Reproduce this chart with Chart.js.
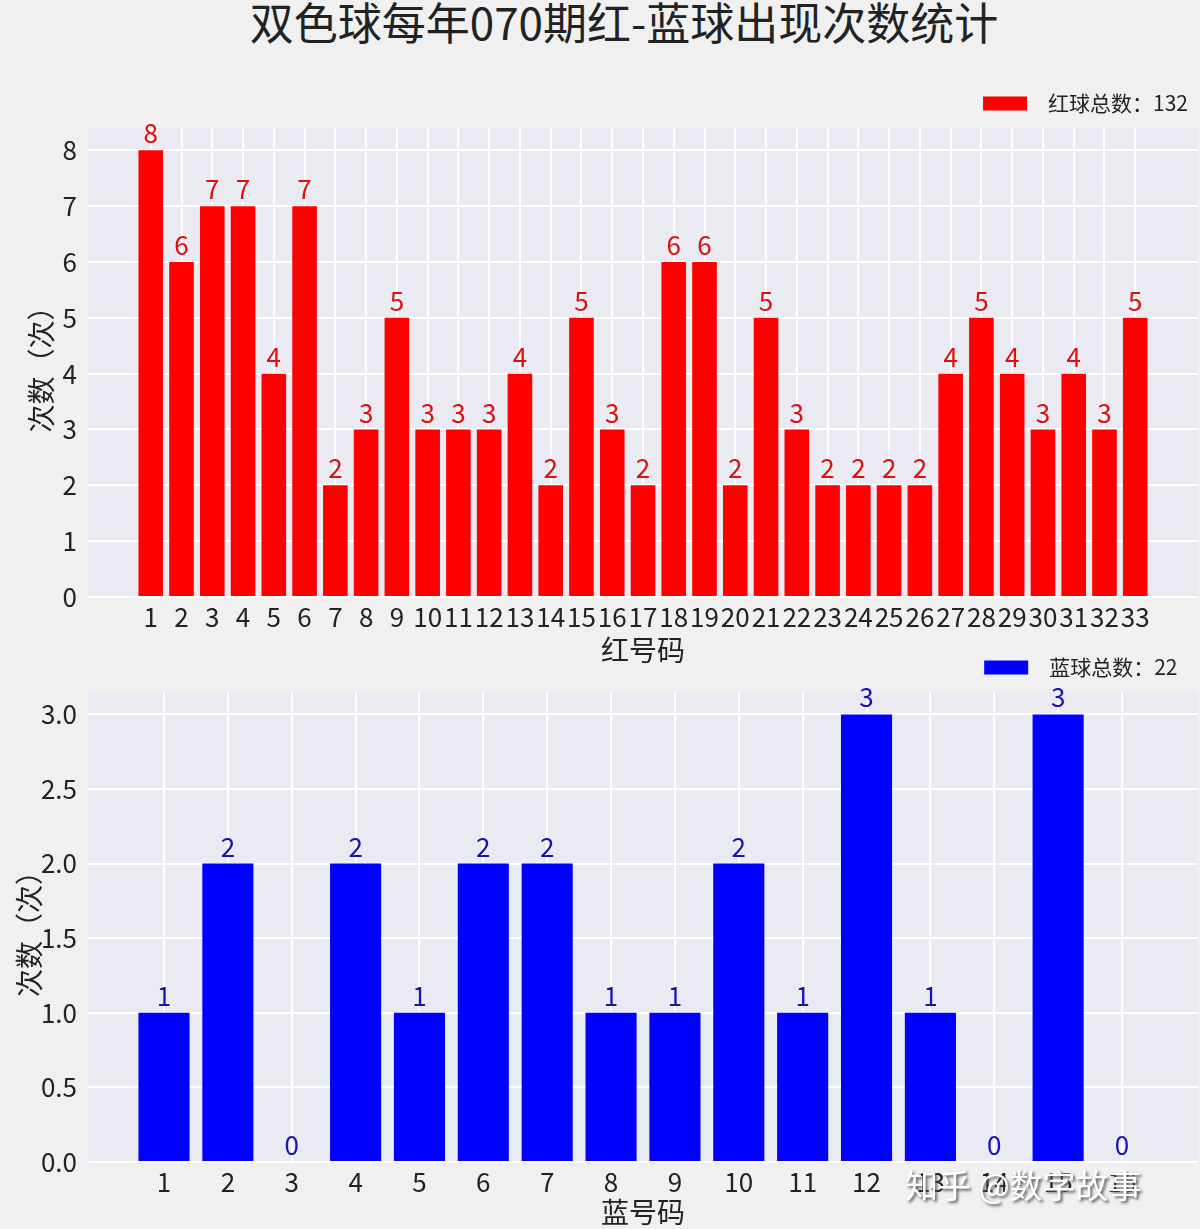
<!DOCTYPE html>
<html>
<head>
<meta charset="utf-8">
<title>双色球每年070期红-蓝球出现次数统计</title>
<script src="https://cdn.jsdelivr.net/npm/chart.js"></script>
<style>
  body { margin: 0; background: #f0f0f0; width: 1200px; height: 1229px; position: relative; overflow: hidden;
         font-family: "Noto Sans CJK SC", sans-serif; }
  h1 { position: absolute; top: -2px; left: 24px; width: 1200px; margin: 0; text-align: center;
       font-weight: normal; font-size: 44px; line-height: 46px; color: #222; }
  .box { position: absolute; left: 0; width: 1200px; }
  #wm { position: absolute; left: 905px; top: 1160px; font-size: 33px; color: #fff;
        text-shadow: 2px 2px 3px #555; white-space: nowrap; }
</style>
</head>
<body>
<h1>双色球每年070期红-蓝球出现次数统计</h1>
<div class="box" style="top:83px;height:587px"><canvas id="redChart"></canvas></div>
<div class="box" style="top:647px;height:582px"><canvas id="blueChart"></canvas></div>
<div id="wm">知乎 @数字故事</div>

<script>
// 红球 1-33 出现次数
const redNums = [1,2,3,4,5,6,7,8,9,10,11,12,13,14,15,16,17,18,19,20,21,22,23,24,25,26,27,28,29,30,31,32,33];
const redCounts = [8,6,7,7,4,7,2,3,5,3,3,3,4,2,5,3,2,6,6,2,5,3,2,2,2,2,4,5,4,3,4,3,5];
// 蓝球 1-16 出现次数
const blueNums = [1,2,3,4,5,6,7,8,9,10,11,12,13,14,15,16];
const blueCounts = [1,2,0,2,1,2,2,1,1,2,1,3,1,0,3,0];

Chart.defaults.font.family = '"Noto Sans CJK SC", sans-serif';
Chart.defaults.color = '#222';

// 绘图区灰底
const areaBg = {
  id: 'areaBg',
  beforeDraw(chart) {
    const a = chart.chartArea, ctx = chart.ctx;
    ctx.save();
    ctx.fillStyle = '#eaeaf2';
    ctx.fillRect(a.left, a.top, a.right - a.left, a.bottom - a.top);
    ctx.restore();
  }
};

// 柱顶数字
const barValues = {
  id: 'barValues',
  afterDatasetsDraw(chart, args, opts) {
    const ctx = chart.ctx;
    const meta = chart.getDatasetMeta(0);
    const data = chart.data.datasets[0].data;
    ctx.save();
    ctx.font = opts.size + 'px "Noto Sans CJK SC", sans-serif';
    ctx.fillStyle = opts.color;
    ctx.textAlign = 'center';
    ctx.textBaseline = 'alphabetic';
    meta.data.forEach((bar, i) => {
      ctx.fillText(String(data[i].y), bar.x, bar.y - opts.gap);
    });
    ctx.restore();
  }
};

// 固定图例高度, 让绘图区顶部对齐
function legendHeight(h) {
  return {
    id: 'legendHeight',
    beforeInit(chart) {
      const fit = chart.legend.fit;
      chart.legend.fit = function () { fit.call(this); this.height = h; };
    }
  };
}

function makeChart(id, nums, counts, o) {
  return new Chart(document.getElementById(id), {
    type: 'bar',
    data: {
      datasets: [{
        label: o.legend,
        data: nums.map((n, i) => ({ x: n, y: counts[i] })),
        backgroundColor: o.color,
        borderWidth: 0,
        barPercentage: 0.8,
        categoryPercentage: 1
      }]
    },
    options: {
      responsive: true,
      maintainAspectRatio: false,
      animation: false,
      layout: { padding: { right: 2 } },
      plugins: {
        tooltip: { enabled: false },
        legend: {
          position: 'top', align: 'end',
          labels: { boxWidth: 44, boxHeight: 14, font: { size: 21 }, color: '#222', padding: 10 }
        },
        barValues: { color: o.labelColor, size: 26, gap: o.gap }
      },
      scales: {
        x: {
          type: 'linear',
          offset: false,
          min: nums[0] - 0.4 - (nums.length - 0.2) * 0.05,
          max: nums[nums.length - 1] + 0.4 + (nums.length - 0.2) * 0.05,
          afterBuildTicks: s => { s.ticks = nums.map(v => ({ value: v })); },
          afterFit: s => { s.height = o.xHeight; },
          grid: { color: '#fff', lineWidth: 2, drawTicks: false, offset: false },
          border: { display: false },
          ticks: { autoSkip: false, maxRotation: 0, minRotation: 0, padding: 5,
                   font: { size: 26 }, color: '#222' },
          title: { display: true, text: o.xTitle, font: { size: 28 }, color: '#222',
                   padding: { top: 0, bottom: o.xTitlePad } }
        },
        y: {
          min: 0, max: o.yMax,
          afterFit: s => { s.width = 88; },
          grid: { color: '#fff', lineWidth: 2, drawTicks: false },
          border: { display: false },
          ticks: { stepSize: o.yStep, includeBounds: false, padding: 11,
                   font: { size: 26 }, color: '#222', callback: o.yFmt },
          title: { display: true, text: '次数（次）', font: { size: 28 }, color: '#222',
                   padding: { top: o.yTitlePad, bottom: 0 } }
        }
      }
    },
    plugins: [areaBg, barValues, legendHeight(o.legendH)]
  });
}

makeChart('redChart', redNums, redCounts, {
  legend: '\u2002红球总数：132', color: '#ff0000', labelColor: '#dd1010', gap: 7,
  xTitle: '红号码', xHeight: 73, xTitlePad: 3,
  yMax: 8.4, yStep: 1, yFmt: v => v, yTitlePad: 25, legendH: 45
});

makeChart('blueChart', blueNums, blueCounts, {
  legend: '\u2002蓝球总数：22\u2002', color: '#0000ff', labelColor: '#1414b4', gap: 7,
  xTitle: '蓝号码', xHeight: 67, xTitlePad: 0,
  yMax: 3.15, yStep: 0.5, yFmt: v => v.toFixed(1), yTitlePad: 13, legendH: 45
});
</script>
</body>
</html>
